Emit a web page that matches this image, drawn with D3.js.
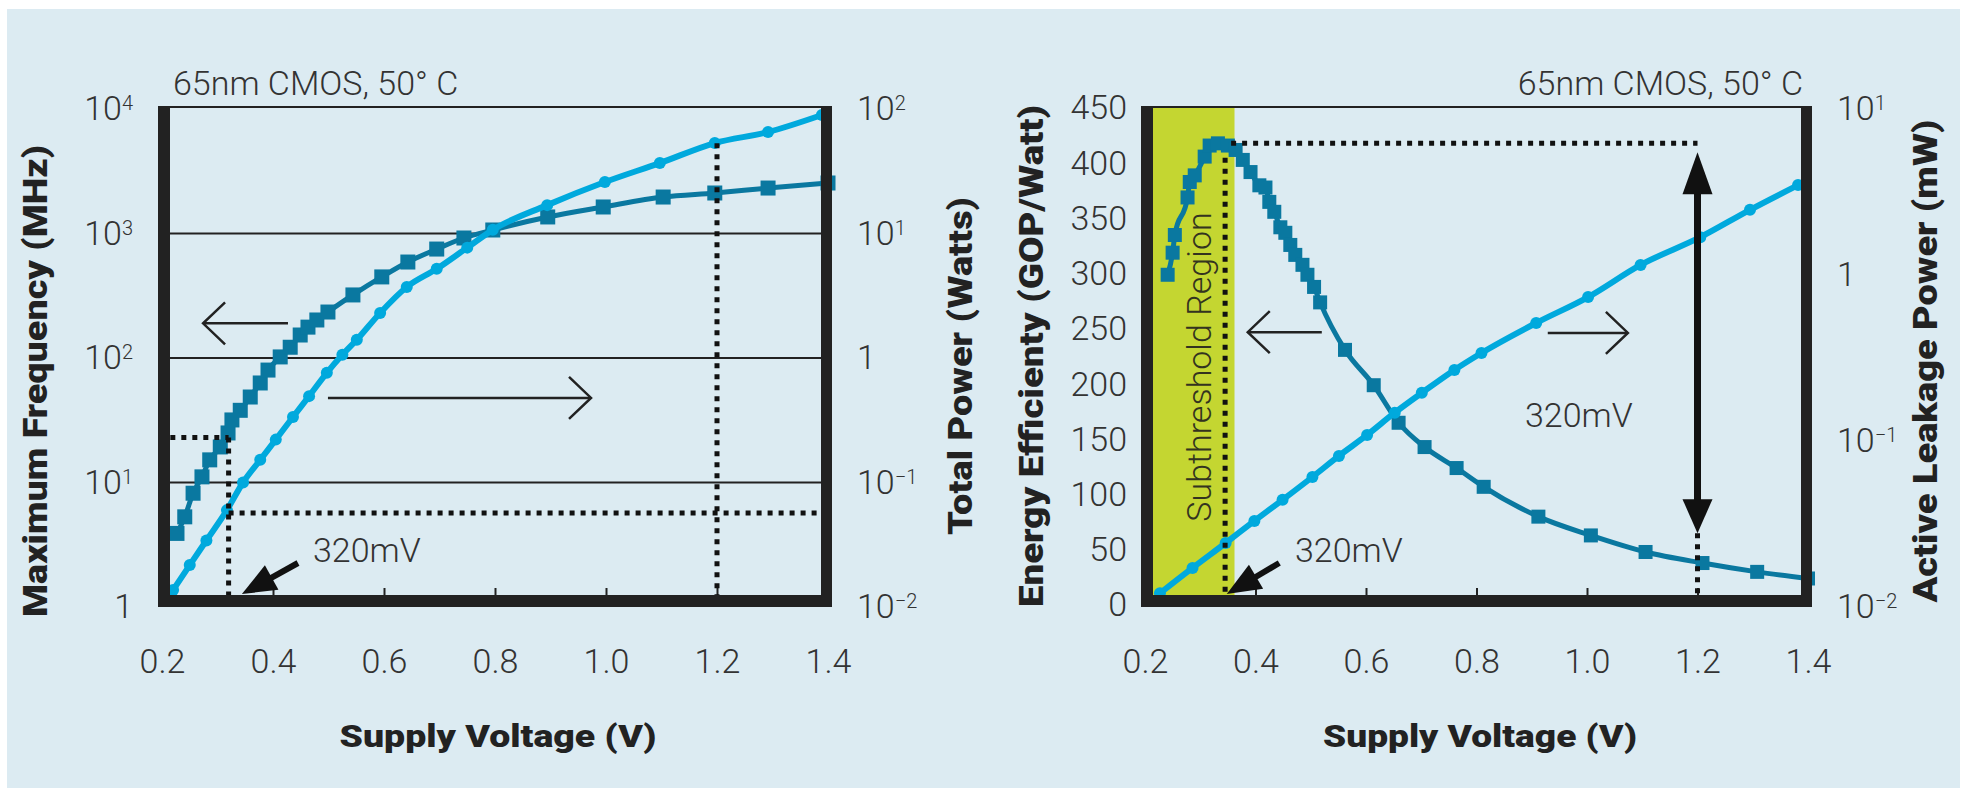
<!DOCTYPE html>
<html>
<head>
<meta charset="utf-8">
<script src="https://cdn.jsdelivr.net/npm/d3@7"></script>
<style>
  body { margin: 0; background: #fff; }
  svg text { font-family: Roboto, "Liberation Sans", sans-serif; }
</style>
</head>
<body>
<svg id="chart" width="1967" height="789"></svg>
<script>
// ---- data ----
const xTicks = [0.2, 0.4, 0.6, 0.8, 1.0, 1.2, 1.4];
const freqTicks = [1, 10, 100, 1000, 10000];
const powerTicks = [0.01, 0.1, 1, 10, 100];
const effTicks = [0, 50, 100, 150, 200, 250, 300, 350, 400, 450];
const leakTicks = [0.01, 0.1, 1, 10];

// left chart: maximum frequency (MHz)
const freqV = [0.227, 0.241, 0.256, 0.272, 0.286, 0.305, 0.319, 0.326, 0.341, 0.359, 0.377, 0.391, 0.413, 0.431, 0.449,
               0.463, 0.479, 0.499, 0.544, 0.596, 0.643, 0.695, 0.744, 0.796, 0.895, 0.995, 1.103, 1.196, 1.292, 1.40];
const freqMHz = [3.9, 5.3, 8.2, 11.1, 15.2, 19.3, 25, 31.8, 38, 48.6, 63, 80, 102, 122, 153,
                 177, 202, 234, 321, 448, 590, 750, 920, 1067, 1358, 1633, 1963, 2115, 2318, 2545];
// left chart: total power (W)
const powerV = [0.22, 0.25, 0.28, 0.317, 0.346, 0.377, 0.405, 0.436, 0.465, 0.497, 0.525, 0.551, 0.593, 0.641,
                0.695, 0.75, 0.796, 0.894, 0.998, 1.097, 1.196, 1.292, 1.389];
const powerW = [0.0137, 0.0217, 0.0342, 0.060, 0.10, 0.152, 0.221, 0.336, 0.494, 0.76, 1.06, 1.40, 2.30, 3.72,
                5.2, 7.7, 10.7, 16.9, 25.9, 36.8, 53.3, 65.3, 89.5];

// right chart: energy efficiency (GOP/Watt)
const effV = [0.241, 0.250, 0.254, 0.277, 0.281, 0.290, 0.308, 0.317, 0.332, 0.350, 0.364, 0.377, 0.391, 0.407, 0.418,
              0.425, 0.434, 0.445, 0.454, 0.463, 0.472, 0.485, 0.494, 0.506, 0.517, 0.562, 0.614, 0.659, 0.706, 0.764,
              0.813, 0.912, 1.007, 1.106, 1.209, 1.308, 1.40];
const effGOPW = [299, 319, 335, 369, 383, 389, 406, 416, 418, 416, 412, 403, 392, 380, 378,
                 365, 356, 342, 337, 326, 317, 308, 299, 288, 274, 231, 199, 165, 143, 124,
                 107, 80, 63, 48, 38, 30, 24];
// right chart: active leakage power (mW)
const leakV = [0.227, 0.286, 0.346, 0.398, 0.449, 0.503, 0.551, 0.602, 0.652, 0.701, 0.760, 0.809, 0.908, 1.002,
               1.097, 1.205, 1.295, 1.382];
const leakMW = [0.0121, 0.0172, 0.0243, 0.033, 0.0442, 0.0607, 0.0813, 0.1087, 0.148, 0.195, 0.268, 0.339, 0.514,
                0.736, 1.15, 1.69, 2.47, 3.48];

// annotation values
const vNominal = 1.2, vLeft320 = 0.32, vPeak = 0.345, vSubEnd = 0.362;
const freqAt320 = 23, powerAt320 = 0.057, powerAtNominal = 53;
const effPeak = 418, effArrowTop = 410, effArrowBottom = 65;

// ---- style ----
const DARK = '#0a78a0', CYAN = '#00a9dd', INK = '#222', TXT = '#333';
const BG = '#dcebf2', SUB = '#c4d631';
const TICK_FONT = 34;

const svg = d3.select('#chart');
svg.append('rect').attr('x', 7).attr('y', 9).attr('width', 1953).attr('height', 779).attr('fill', BG);

const plotTop = 107, plotBottom = 595;

// scales
const x1 = d3.scaleLinear().domain([0.2, 1.4]).range([162, 828]);
const yF = d3.scaleLog().domain([1, 1e4]).range([607, 109]);
const yP = d3.scaleLog().domain([1e-2, 1e2]).range([607, 109]);
const x2 = d3.scaleLinear().domain([0.2, 1.4]).range([1145, 1808]);
const yE = d3.scaleLinear().domain([0, 450]).range([605, 108]);
const yK = d3.scaleLog().domain([1e-2, 10]).range([607, 109]);

function logLabels(g) {
    g.selectAll('text').each(function(d) {
        const t = d3.select(this);
        const e = Math.round(Math.log10(d));
        t.text(null);
        if (e === 0) { t.text('1'); return; }
        t.append('tspan').text('10');
        t.append('tspan').attr('font-size', 20).attr('dy', -10).text(e < 0 ? '\u2212' + (-e) : e);
    });
}

function styleAxis(g) {
    g.select('.domain').remove();
    g.selectAll('text').attr('font-size', TICK_FONT).attr('font-weight', 300).attr('fill', TXT)
        .attr('font-family', 'Roboto, "Liberation Sans", sans-serif');
    g.selectAll('line').attr('stroke', INK).attr('stroke-width', 2);
}

function series(g, xs, ys, x, y, color, lw, marker, ms) {
    const pts = xs.map((v, i) => [v, ys[i]]);
    g.append('path').datum(pts)
        .attr('fill', 'none').attr('stroke', color).attr('stroke-width', lw)
        .attr('stroke-linejoin', 'round').attr('stroke-linecap', 'round')
        .attr('d', d3.line().x(d => x(d[0])).y(d => y(d[1])).curve(d3.curveMonotoneX));
    if (marker === 'square') {
        g.selectAll(null).data(pts).enter().append('rect')
            .attr('x', d => x(d[0]) - ms / 2).attr('y', d => y(d[1]) - ms / 2)
            .attr('width', ms).attr('height', ms).attr('fill', color);
    } else {
        g.selectAll(null).data(pts).enter().append('circle')
            .attr('cx', d => x(d[0])).attr('cy', d => y(d[1])).attr('r', ms).attr('fill', color);
    }
}

function dotted(g, xa, ya, xb, yb) {
    g.append('line').attr('x1', xa).attr('y1', ya).attr('x2', xb).attr('y2', yb)
        .attr('stroke', '#111').attr('stroke-width', 5).attr('stroke-dasharray', '5 6');
}

function openArrow(g, xa, y, xb) {
    // tail at xa, tip at xb
    const s = xb > xa ? -1 : 1;
    g.append('line').attr('x1', xa).attr('y1', y).attr('x2', xb).attr('y2', y)
        .attr('stroke', INK).attr('stroke-width', 2.5);
    g.append('path').attr('d', `M${xb + s * 22},${y - 21}L${xb},${y}L${xb + s * 22},${y + 21}`)
        .attr('fill', 'none').attr('stroke', INK).attr('stroke-width', 2.5);
}

function pointer(g, tx, ty, hx, hy, len, hw, w) {
    // tail (tx,ty) -> tip (hx,hy), filled head
    const dx = hx - tx, dy = hy - ty, L = Math.hypot(dx, dy);
    const ux = dx / L, uy = dy / L, px = -uy, py = ux;
    const bx = hx - ux * len, by = hy - uy * len;
    g.append('line').attr('x1', tx).attr('y1', ty).attr('x2', bx + ux * 2).attr('y2', by + uy * 2)
        .attr('stroke', '#111').attr('stroke-width', w);
    g.append('path').attr('d', `M${hx},${hy}L${bx + px * hw},${by + py * hw}L${bx - px * hw},${by - py * hw}Z`)
        .attr('fill', '#111');
}

function frame(g, x) {
    const l = x.range()[0], r = x.range()[1];
    g.append('rect').attr('x', l - 4).attr('y', plotTop - 1).attr('width', r - l + 8).attr('height', 2).attr('fill', INK);
    g.append('rect').attr('x', l - 4).attr('y', plotTop).attr('width', 12).attr('height', plotBottom + 12 - plotTop).attr('fill', INK);
    g.append('rect').attr('x', r - 7).attr('y', plotTop).attr('width', 11).attr('height', plotBottom + 12 - plotTop).attr('fill', INK);
    g.append('rect').attr('x', l - 4).attr('y', plotBottom).attr('width', r - l + 8).attr('height', 12).attr('fill', INK);
}

function xAxis(g, x) {
    g.append('g').attr('transform', `translate(0,${plotBottom})`)
        .call(d3.axisBottom(x).tickValues(xTicks).tickFormat(d3.format('.1f')).tickSizeInner(-7).tickSizeOuter(0).tickPadding(54))
        .call(styleAxis);
}

function boldTitle(g, txt, x, y, len, rotate, size) {
    g.append('text').attr('transform', `translate(${x},${y})` + (rotate ? ' rotate(-90)' : ''))
        .attr('text-anchor', 'middle').attr('font-size', size).attr('font-weight', 900).attr('fill', '#222')
        .attr('textLength', len).attr('lengthAdjust', 'spacingAndGlyphs').text(txt);
}

function plain(g, txt, x, y, anchor) {
    g.append('text').attr('x', x).attr('y', y).attr('text-anchor', anchor || 'start')
        .attr('font-size', TICK_FONT).attr('font-weight', 300).attr('fill', TXT).text(txt);
}

// ================= left chart =================
const gA = svg.append('g');

// gridlines
gA.selectAll(null).data([10, 100, 1000]).enter().append('line')
    .attr('x1', x1(0.2)).attr('x2', x1(1.4)).attr('y1', d => yF(d)).attr('y2', d => yF(d))
    .attr('stroke', INK).attr('stroke-width', 2);

xAxis(gA, x1);

series(gA, freqV, freqMHz, x1, yF, DARK, 5, 'square', 15);
series(gA, powerV, powerW, x1, yP, CYAN, 6, 'circle', 6);

// 320mV and 1.2V markers
dotted(gA, x1(0.215), yF(freqAt320), x1(vLeft320), yF(freqAt320));
dotted(gA, x1(vLeft320), yF(freqAt320), x1(vLeft320), plotBottom);
dotted(gA, x1(vLeft320), yP(powerAt320), x1(1.4) - 7, yP(powerAt320));
dotted(gA, x1(vNominal), yP(powerAtNominal), x1(vNominal), plotBottom);

frame(gA, x1);

gA.append('g').attr('transform', `translate(${x1(0.2) - 4},0)`)
    .call(d3.axisLeft(yF).tickValues(freqTicks).tickSize(0).tickPadding(25))
    .call(styleAxis).call(logLabels);
gA.append('g').attr('transform', `translate(${x1(1.4) + 2},0)`)
    .call(d3.axisRight(yP).tickValues(powerTicks).tickSize(0).tickPadding(27))
    .call(styleAxis).call(logLabels);

openArrow(gA, x1(0.427), yF(190), x1(0.274));
openArrow(gA, x1(0.499), yP(0.478), x1(0.973));
pointer(gA, x1(0.445), 563, x1(0.344), 594, 34, 14, 6);

plain(gA, '65nm CMOS, 50\u00B0 C', 173, 95);
plain(gA, '320mV', 313, 562);

boldTitle(gA, 'Maximum Frequency (MHz)', 47, 381, 472, true, 33);
boldTitle(gA, 'Total Power (Watts)', 972, 366, 338, true, 33);
boldTitle(gA, 'Supply Voltage (V)', 498, 747, 317, false, 32);

// ================= right chart =================
const gB = svg.append('g');

gB.append('rect').attr('x', x2(0.2)).attr('y', plotTop).attr('width', x2(vSubEnd) - x2(0.2))
    .attr('height', plotBottom - plotTop).attr('fill', SUB);

gB.append('text').attr('transform', `translate(1211,367) rotate(-90)`).attr('text-anchor', 'middle')
    .attr('font-size', TICK_FONT).attr('font-weight', 300).attr('fill', '#33331f').text('Subthreshold Region');

xAxis(gB, x2);

series(gB, effV, effGOPW, x2, yE, DARK, 5, 'square', 14);
series(gB, leakV, leakMW, x2, yK, CYAN, 6, 'circle', 6);

dotted(gB, x2(vPeak) + 6, yE(effPeak), x2(vNominal), yE(effPeak));
dotted(gB, x2(vPeak), yE(405), x2(vPeak), plotBottom);
dotted(gB, x2(vNominal), yE(effArrowBottom), x2(vNominal), plotBottom);

frame(gB, x2);

gB.append('g').attr('transform', `translate(${x2(0.2) - 4},0)`)
    .call(d3.axisLeft(yE).tickValues(effTicks).tickSize(0).tickPadding(14))
    .call(styleAxis);
gB.append('g').attr('transform', `translate(${x2(1.4) + 3},0)`)
    .call(d3.axisRight(yK).tickValues(leakTicks).tickSize(0).tickPadding(26))
    .call(styleAxis).call(logLabels);

// double-headed arrow at 1.2V
const ax = x2(vNominal), aTop = yE(effArrowTop), aBot = yE(effArrowBottom);
gB.append('line').attr('x1', ax).attr('x2', ax).attr('y1', aTop + 40).attr('y2', aBot - 30)
    .attr('stroke', '#111').attr('stroke-width', 7);
gB.append('path').attr('d', `M${ax},${aTop}L${ax + 15},${aTop + 42}L${ax - 15},${aTop + 42}Z`).attr('fill', '#111');
gB.append('path').attr('d', `M${ax},${aBot}L${ax + 15},${aBot - 34}L${ax - 15},${aBot - 34}Z`).attr('fill', '#111');

openArrow(gB, x2(0.52), yE(247), x2(0.386));
openArrow(gB, x2(0.929), yK(0.448), x2(1.074));
pointer(gB, x2(0.443), 563, x2(0.348), 594, 34, 14, 6);

plain(gB, '65nm CMOS, 50\u00B0 C', 1803, 95, 'end');
plain(gB, '320mV', 1295, 562);
plain(gB, '320mV', 1525, 427);

boldTitle(gB, 'Energy Efficienty (GOP/Watt)', 1043, 356, 502, true, 33);
boldTitle(gB, 'Active Leakage Power (mW)', 1937, 361, 483, true, 33);
boldTitle(gB, 'Supply Voltage (V)', 1480, 747, 314, false, 32);
</script>
</body>
</html>
